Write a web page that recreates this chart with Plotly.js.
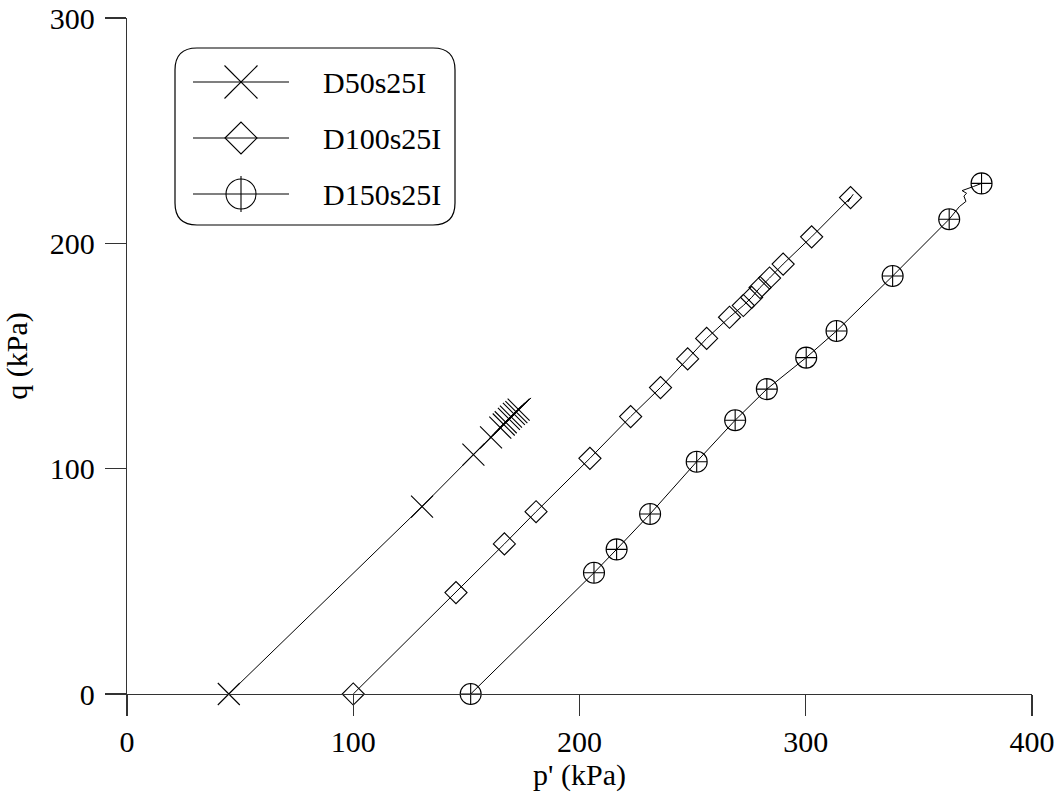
<!DOCTYPE html>
<html>
<head>
<meta charset="utf-8">
<script src="https://cdn.plot.ly/plotly-3.0.1.min.js"></script>
<style>html,body{margin:0;padding:0;background:#fff;}#chart{width:1063px;height:793px;}</style>
</head>
<body>
<div id="chart"></div>
<script>
// ---- Data (p' and q in kPa) ----
const seriesNames = ["D50s25I", "D100s25I", "D150s25I"];

const d50_p = [45, 130.4, 153.1, 160.9, 165.0, 166.5, 167.4, 168.8, 169.7, 171.0, 172.1, 173.1, 178.6];
const d50_q = [0, 83.2, 106.2, 113.9, 118.2, 119.6, 120.6, 122.1, 123.1, 124.3, 125.1, 126.2, 131.4];
const d50_marked = [1, 1, 1, 1, 1, 1, 1, 1, 1, 1, 1, 1, 0];

const d100_p = [100, 145.4, 166.8, 180.8, 204.6, 222.6, 235.8, 247.8, 256.2, 266.3, 272.4, 276.1, 279.8, 284.0, 290.0, 302.6, 319.8, 318.6, 320.9, 319.9, 321.0];
const d100_q = [0, 45.0, 66.6, 80.9, 104.6, 123.1, 136.0, 148.7, 157.8, 167.2, 172.4, 176.0, 180.4, 184.6, 190.8, 202.9, 220.3, 218.4, 221.6, 220.2, 221.8];
const d100_marked = [1, 1, 1, 1, 1, 1, 1, 1, 1, 1, 1, 1, 1, 1, 1, 1, 1, 0, 0, 0, 0];

const d150_p = [151.9, 206.4, 216.4, 231.2, 251.8, 258.5, 268.8, 282.8, 300.2, 313.6, 338.4, 363.4, 367.9, 370.8, 369.9, 371.1, 369.1, 374.1, 377.7];
const d150_q = [0, 53.8, 64.2, 79.9, 103.1, 110.5, 121.5, 135.3, 149.3, 161.1, 185.5, 210.7, 216.3, 218.6, 221.0, 222.2, 223.4, 225.2, 226.6];
const d150_marked = [1, 1, 1, 1, 1, 0, 1, 1, 1, 1, 1, 1, 0, 0, 0, 0, 0, 0, 1];

const xTicks = [0, 100, 200, 300, 400];
const yTicks = [0, 100, 200, 300];

// ---- Styling / layout ----
const W = 1063, H = 793;
const M = {l: 127, r: 31, t: 18, b: 99};
const FONT = "Liberation Serif, Times New Roman, Times, serif";
const INK = "#000";
const AX = "#333";

function makeTrace(p, q, marked, symbol, size) {
  return {
    type: "scatter", mode: "lines+markers", x: p, y: q,
    line: {color: INK, width: 1},
    marker: {symbol: symbol, size: size, color: INK,
             opacity: marked, line: {color: INK, width: 1.1}},
    cliponaxis: false, showlegend: false, hoverinfo: "x+y"
  };
}

const traces = [
  makeTrace(d50_p, d50_q, d50_marked, "x-thin-open", 22),
  makeTrace(d100_p, d100_q, d100_marked, "diamond-open", 17),
  makeTrace(d150_p, d150_q, d150_marked, "circle-cross-open", 21)
];

// pixel -> paper helpers for the legend box
const PW = W - M.l - M.r, PH = H - M.t - M.b;
const X = px => (px - M.l) / PW;
const Y = py => (H - M.b - py) / PH;

const shapes = [];
const annotations = [];
// rounded legend box
(function () {
  const x0 = 175, x1 = 455, y0 = 48, y1 = 225, r = 22;
  const path = [
    `M${X(x0 + r)},${Y(y0)}`, `L${X(x1 - r)},${Y(y0)}`, `Q${X(x1)},${Y(y0)} ${X(x1)},${Y(y0 + r)}`,
    `L${X(x1)},${Y(y1 - r)}`, `Q${X(x1)},${Y(y1)} ${X(x1 - r)},${Y(y1)}`,
    `L${X(x0 + r)},${Y(y1)}`, `Q${X(x0)},${Y(y1)} ${X(x0)},${Y(y1 - r)}`,
    `L${X(x0)},${Y(y0 + r)}`, `Q${X(x0)},${Y(y0)} ${X(x0 + r)},${Y(y0)}`, "Z"
  ].join(" ");
  shapes.push({type: "path", xref: "paper", yref: "paper", path: path,
               line: {color: INK, width: 1.2}, fillcolor: "rgba(0,0,0,0)"});
})();
const rows = [82, 138, 194];
const lx0 = 193, lx1 = 289, cx = 241, tx = 321;
function seg(ax, ay, bx, by) {
  shapes.push({type: "line", xref: "paper", yref: "paper",
               x0: X(ax), y0: Y(ay), x1: X(bx), y1: Y(by), line: {color: INK, width: 1.1}});
}
rows.forEach((ry, i) => {
  seg(lx0, ry, lx1, ry);
  if (i === 0) {
    const h = 16.5;
    seg(cx - h, ry - h, cx + h, ry + h);
    seg(cx - h, ry + h, cx + h, ry - h);
  } else if (i === 1) {
    const h = 16;
    shapes.push({type: "path", xref: "paper", yref: "paper",
      path: `M${X(cx - h)},${Y(ry)} L${X(cx)},${Y(ry - h)} L${X(cx + h)},${Y(ry)} L${X(cx)},${Y(ry + h)} Z`,
      line: {color: INK, width: 1.1}, fillcolor: "rgba(0,0,0,0)"});
  } else {
    const r = 15;
    shapes.push({type: "circle", xref: "paper", yref: "paper",
      x0: X(cx - r), x1: X(cx + r), y0: Y(ry + r), y1: Y(ry - r),
      line: {color: INK, width: 1.1}, fillcolor: "rgba(0,0,0,0)"});
    seg(cx, ry - 18, cx, ry + 18);
  }
  annotations.push({xref: "paper", yref: "paper", x: X(tx), y: Y(ry),
    xanchor: "left", yanchor: "middle", showarrow: false, text: seriesNames[i],
    font: {family: FONT, size: 30, color: INK}});
});

const axisCommon = {
  showgrid: false, zeroline: false, showline: true, linecolor: AX, linewidth: 1.3,
  ticks: "outside", ticklen: 21, tickwidth: 1.3, tickcolor: AX,
  tickfont: {family: FONT, size: 30, color: INK}, fixedrange: true
};

const layout = {
  width: W, height: H, margin: M,
  paper_bgcolor: "#fff", plot_bgcolor: "#fff",
  showlegend: false,
  xaxis: Object.assign({}, axisCommon, {
    range: [0, 400], tickvals: xTicks, ticktext: xTicks.map(String),
    title: {text: "p' (kPa)", font: {family: FONT, size: 30, color: INK}, standoff: 6}
  }),
  yaxis: Object.assign({}, axisCommon, {
    range: [0, 300], tickvals: yTicks, ticktext: yTicks.map(String),
    ticklabelstandoff: 4,
    title: {text: "q (kPa)", font: {family: FONT, size: 30, color: INK}, standoff: 14}
  }),
  shapes: shapes,
  annotations: annotations
};

Plotly.newPlot("chart", traces, layout, {displayModeBar: false, staticPlot: true});
</script>
</body>
</html>
